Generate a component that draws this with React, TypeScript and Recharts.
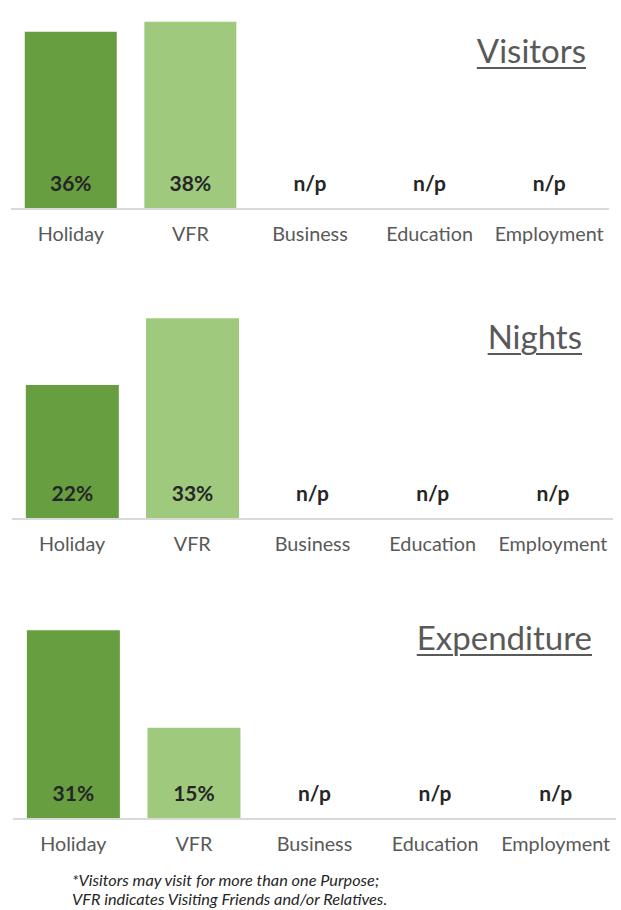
import React from 'react';
import { BarChart, Bar, XAxis, YAxis, Cell, LabelList } from 'recharts';

const categories = ['Holiday', 'VFR', 'Business', 'Education', 'Employment'];
const visitorsValues: (number | null)[] = [36, 38, null, null, null];
const nightsValues: (number | null)[] = [22, 33, null, null, null];
const expenditureValues: (number | null)[] = [31, 15, null, null, null];
const visitorsLabels = ['36%', '38%', 'n/p', 'n/p', 'n/p'];
const nightsLabels = ['22%', '33%', 'n/p', 'n/p', 'n/p'];
const expenditureLabels = ['31%', '15%', 'n/p', 'n/p', 'n/p'];
const barColors = ['#669E40', '#9FCA7E', '#9FCA7E', '#9FCA7E', '#9FCA7E'];

const FONT = 'Lato, "Open Sans", sans-serif';

function buildRows(values: (number | null)[], labels: string[]) {
  return categories.map((c, i) => ({ name: c, value: values[i] ?? 0, label: labels[i], missing: values[i] == null }));
}

const valueText = (x: number, y: number, text: string) => (
  <text
    x={x}
    y={y}
    textAnchor="middle"
    dominantBaseline="central"
    fontFamily={FONT}
    fontWeight={700}
    fontSize={21}
    fill="#262626"
  >
    {text}
  </text>
);

const BottomLabel = (props: any) => {
  const { x, y, width, height, value } = props;
  if (value === 'n/p') return null;
  const base = Number(y) + Number(height);
  return valueText(Number(x) + Number(width) / 2, base - 26.5, String(value));
};

const makeTick = (rows: { name: string; label: string; missing: boolean }[]) => (props: any) => {
  const { x, y, payload, index } = props;
  const row = rows[index];
  return (
    <g>
      {row && row.missing ? valueText(x, y - 26.5, row.label) : null}
      <text
        x={x}
        y={y + 24}
        textAnchor="middle"
        dominantBaseline="central"
        fontFamily={FONT}
        fontSize={19.8}
        fill="#595959"
      >
        {payload.value}
      </text>
    </g>
  );
};

type PanelProps = {
  top: number;
  height: number;
  margin: { top: number; right: number; left: number; bottom: number };
  max: number;
  values: (number | null)[];
  labels: string[];
};

function Panel({ top, height, margin, max, values, labels }: PanelProps) {
  const rows = buildRows(values, labels);
  const Tick = makeTick(rows);
  return (
    <div style={{ position: 'absolute', left: 0, top, width: 621, height }}>
      <BarChart width={621} height={height} data={rows} margin={margin} barCategoryGap="11.5%">
        <XAxis
          dataKey="name"
          height={40}
          tickLine={false}
          tickSize={0}
          tickMargin={0}
          axisLine={{ stroke: '#D9D9D9', strokeWidth: 2 }}
          tick={(p: any) => <Tick {...p} />}
          interval={0}
        />
        <YAxis hide domain={[0, max]} />
        <Bar dataKey="value" isAnimationActive={false}>
          {rows.map((r, i) => (
            <Cell key={r.name} fill={barColors[i]} />
          ))}
          <LabelList dataKey="label" content={<BottomLabel />} />
        </Bar>
      </BarChart>
    </div>
  );
}

const titleStyle = (top: number, right: number): React.CSSProperties => ({
  position: 'absolute',
  top,
  right: 621 - right,
  fontFamily: FONT,
  fontSize: 33,
  lineHeight: 1,
  color: '#595959',
  textDecoration: 'underline',
  textDecorationThickness: '2px',
  textUnderlineOffset: '4px',
  whiteSpace: 'nowrap',
});

export default function App() {
  return (
    <div style={{ position: 'absolute', left: 0, top: 0, width: 621, height: 910, background: '#fff', overflow: 'hidden' }}>
      <Panel top={0} height={260} margin={{ top: 12, right: 12, left: 11, bottom: 11 }} max={40} values={visitorsValues} labels={visitorsLabels} />
      <Panel top={290} height={280} margin={{ top: 16, right: 8, left: 12, bottom: 11 }} max={35} values={nightsValues} labels={nightsLabels} />
      <Panel top={590} height={280} margin={{ top: 16, right: 5, left: 13, bottom: 11 }} max={35} values={expenditureValues} labels={expenditureLabels} />
      <div style={titleStyle(34, 586)}>Visitors</div>
      <div style={titleStyle(320, 582)}>Nights</div>
      <div style={titleStyle(621, 592)}>Expenditure</div>
      <div
        style={{
          position: 'absolute',
          left: 72,
          top: 870,
          fontFamily: FONT,
          fontStyle: 'italic',
          fontSize: 16.3,
          lineHeight: '19px',
          color: '#262626',
          whiteSpace: 'nowrap',
        }}
      >
        <div>*Visitors may visit for more than one Purpose;</div>
        <div>VFR indicates Visiting Friends and/or Relatives.</div>
      </div>
    </div>
  );
}
